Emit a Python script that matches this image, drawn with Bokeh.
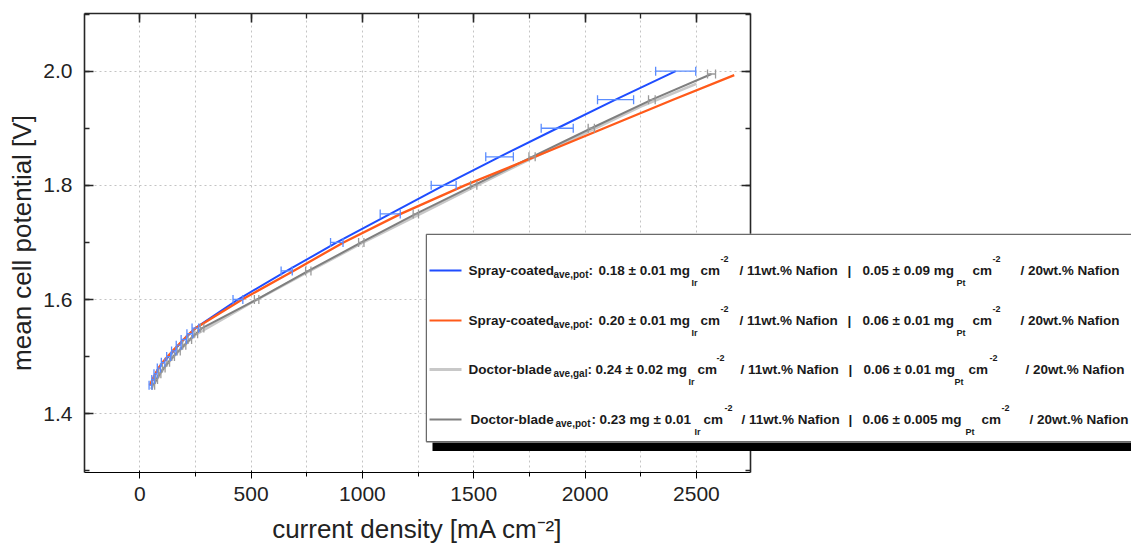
from bokeh.plotting import figure
from bokeh.models import (Range1d, LinearAxis, SingleIntervalTicker, NumeralTickFormatter,
                          CustomJSTickFormatter, Whisker, TeeHead, ColumnDataSource, Label)
from bokeh.embed import file_html
from bokeh.resources import INLINE

# ---------------- data ----------------
pot_blue = [1.45, 1.46, 1.47, 1.48, 1.49, 1.50, 1.51, 1.52, 1.53, 1.54, 1.55,
            1.60, 1.65, 1.70, 1.75, 1.80, 1.85, 1.90, 1.95, 2.00]
j_blue = [48, 60, 71, 86, 105, 130, 153, 175, 198, 225, 250,
          441, 660, 885, 1125, 1365, 1616, 1875, 2137, 2407]
err_blue = [6, 6, 7, 7, 8, 9, 10, 11, 12, 13, 15,
            22, 25, 28, 45, 56, 62, 72, 81, 90]

pot_orange = [1.45, 1.46, 1.47, 1.48, 1.49, 1.50, 1.51, 1.52, 1.53, 1.54, 1.55,
              1.60, 1.65, 1.70, 1.75, 1.80, 1.85, 1.90, 1.95, 1.993]
j_orange = [45, 57, 70, 85, 103, 125, 148, 172, 197, 222, 252,
            460, 690, 915, 1172, 1460, 1775, 2085, 2395, 2670]

pot_dgray = [1.45, 1.46, 1.47, 1.48, 1.49, 1.50, 1.51, 1.52, 1.53, 1.54, 1.55,
             1.60, 1.65, 1.70, 1.75, 1.80, 1.85, 1.90, 1.95, 1.995]
j_dgray = [62, 75, 90, 108, 128, 150, 175, 200, 225, 252, 280,
           525, 757, 995, 1240, 1500, 1762, 2028, 2300, 2568]
err_dgray = [5, 5, 5, 6, 6, 6, 7, 7, 8, 8, 8,
             10, 12, 12, 12, 14, 14, 14, 15, 18]

j_lgray = [50, 60, 75, 90, 110, 130, 150, 175, 200, 225, 250,
           500, 750, 1000, 1250, 1500, 1750, 2000, 2250, 2500]
pot_lgray = [1.443, 1.449, 1.459, 1.469, 1.480, 1.490, 1.499, 1.509, 1.519, 1.529, 1.538,
             1.594, 1.647, 1.699, 1.748, 1.797, 1.845, 1.891, 1.938, 1.978]

series_names = ["Spray-coated", "Spray-coated", "Doctor-blade", "Doctor-blade"]
series_subs = ["ave,pot", "ave,pot", "ave,gal", "ave,pot"]
anode_loadings = ["0.18 \u00b1 0.01 mg", "0.20 \u00b1 0.01 mg", "0.24 \u00b1 0.02 mg", "0.23 mg \u00b1  0.01"]
cathode_loadings = ["0.05  \u00b1 0.09 mg", "0.06  \u00b1 0.01 mg", "0.06 \u00b1 0.01 mg", "0.06  \u00b1 0.005 mg"]
anode_ionomer = "/ 11wt.% Nafion"
cathode_ionomer = "/ 20wt.% Nafion"

x_label = "current density [mA cm\u207b\u00b2]"
y_label = "mean cell potential [V]"

C_BLUE = "#1f4dff"
C_BLUE_ERR = "#5a8cff"
C_ORANGE = "#ff5a1a"
C_DGRAY = "#7f7f7f"
C_LGRAY = "#c8c8c8"
AX = "#262626"

# ---------------- main figure ----------------
p = figure(width=760, height=548, output_backend="svg", toolbar_location=None, title=None,
           x_range=Range1d(-248, 2743), y_range=Range1d(1.297, 2.101),
           min_border_left=84, min_border_right=10, min_border_top=13, min_border_bottom=76)
p.outline_line_color = None
p.background_fill_color = "white"
p.border_fill_color = "white"

xt = SingleIntervalTicker(interval=500, num_minor_ticks=2)
yt = SingleIntervalTicker(interval=0.2, num_minor_ticks=2)

for ax in [p.xaxis[0], p.yaxis[0]]:
    ax.major_label_text_font = "Liberation Sans"
    ax.major_label_text_font_size = "21px"
    ax.major_label_text_color = "#222222"
    ax.axis_label_text_font = "Liberation Sans"
    ax.axis_label_text_font_size = "26px"
    ax.axis_label_text_font_style = "normal"
    ax.axis_label_text_color = "#222222"
p.xaxis[0].ticker = xt
p.yaxis[0].ticker = yt
p.yaxis[0].formatter = NumeralTickFormatter(format="0.0")
p.xaxis[0].major_label_standoff = 8
p.yaxis[0].major_label_standoff = 12
p.xaxis[0].axis_label = x_label
p.yaxis[0].axis_label = y_label
p.xaxis[0].axis_label_standoff = 10
p.yaxis[0].axis_label_standoff = 3

blank = CustomJSTickFormatter(code="return ''")
top = LinearAxis(ticker=xt, formatter=blank, major_label_standoff=0)
right = LinearAxis(ticker=yt, formatter=blank, major_label_standoff=0)
p.add_layout(top, "above")
p.add_layout(right, "right")

for ax in [p.xaxis[0], p.yaxis[0], top, right]:
    ax.axis_line_color = AX
    ax.axis_line_width = 1.6
    ax.major_tick_line_color = AX
    ax.minor_tick_line_color = AX
    ax.major_tick_line_width = 1.6
    ax.minor_tick_line_width = 1.3
    ax.major_tick_in = 9
    ax.major_tick_out = 0
    ax.minor_tick_in = 5
    ax.minor_tick_out = 0

p.xgrid.grid_line_color = None
p.xgrid.minor_grid_line_color = "#c4c4c4"
p.xgrid.minor_grid_line_dash = "2 3"
p.xgrid.minor_grid_line_width = 1
p.ygrid.grid_line_color = "#c4c4c4"
p.ygrid.grid_line_dash = "2 3"
p.ygrid.grid_line_width = 1

src_b = ColumnDataSource(dict(x=j_blue, y=pot_blue,
                              lo=[a - e for a, e in zip(j_blue, err_blue)],
                              hi=[a + e for a, e in zip(j_blue, err_blue)]))
src_o = ColumnDataSource(dict(x=j_orange, y=pot_orange))
src_d = ColumnDataSource(dict(x=j_dgray, y=pot_dgray,
                              lo=[a - e for a, e in zip(j_dgray, err_dgray)],
                              hi=[a + e for a, e in zip(j_dgray, err_dgray)]))
src_l = ColumnDataSource(dict(x=j_lgray, y=pot_lgray))

p.line("x", "y", source=src_l, line_color=C_LGRAY, line_width=2.5)
p.add_layout(Whisker(source=src_d, base="y", lower="lo", upper="hi", dimension="width",
                     line_color="#9a9a9a", line_width=1.3, level="glyph",
                     upper_head=TeeHead(size=9, line_color="#9a9a9a", line_width=1.3),
                     lower_head=TeeHead(size=9, line_color="#9a9a9a", line_width=1.3)))
p.line("x", "y", source=src_d, line_color=C_DGRAY, line_width=2)
p.add_layout(Whisker(source=src_b, base="y", lower="lo", upper="hi", dimension="width",
                     line_color=C_BLUE_ERR, line_width=1.3, level="glyph",
                     upper_head=TeeHead(size=9, line_color=C_BLUE_ERR, line_width=1.3),
                     lower_head=TeeHead(size=9, line_color=C_BLUE_ERR, line_width=1.3)))
p.line("x", "y", source=src_b, line_color=C_BLUE, line_width=2)
p.line("x", "y", source=src_o, line_color=C_ORANGE, line_width=2.3)

# ---------------- legend (separate overlay figure, 1 unit = 1 px) ----------------
LX0, LY0 = 425, 233          # page position of legend canvas
LW, LH = 706, 218
leg = figure(width=LW, height=LH, output_backend="svg", toolbar_location=None, title=None,
             x_range=Range1d(0, LW), y_range=Range1d(0, LH),
             x_axis_location=None, y_axis_location=None, min_border=0,
             min_border_left=0, min_border_right=0, min_border_top=0, min_border_bottom=0,
             styles={"position": "absolute", "left": f"{LX0}px", "top": f"{LY0}px",
                     "z-index": "5"})
leg.outline_line_color = None
leg.background_fill_color = None
leg.border_fill_color = None
leg.grid.visible = False

def lx(X):
    return X - LX0
def ly(Y):
    return (LY0 + LH) - Y

# shadow and box
leg.quad(left=[lx(432)], right=[LW], bottom=[ly(451)], top=[ly(241)], fill_color="black",
         line_color=None)
leg.quad(left=[0], right=[LW], bottom=[ly(442)], top=[LH], fill_color="white", line_color=None)
leg.segment(x0=[0.75, 0.75, 0.75], y0=[ly(442) + 0.75, LH - 0.75, ly(442) + 0.75],
            x1=[0.75, LW, LW], y1=[LH - 0.75, LH - 0.75, ly(442) + 0.75],
            line_color="#6a6a6a", line_width=1.5)

row_y = [270, 320, 369, 419]
swatch_colors = [C_BLUE, C_ORANGE, C_LGRAY, C_DGRAY]
swatch_w = [2, 2, 3, 2]
leg.segment(x0=[lx(429)] * 4, x1=[lx(461)] * 4, y0=[ly(Y) for Y in row_y],
            y1=[ly(Y) for Y in row_y], line_color=swatch_colors, line_width=swatch_w)

name_x = [468, 468, 468, 470]
sub_x = [553, 553, 553, 555]
colon_x = [588, 588, 587, 591]
an_x = [598, 598, 595, 599]
ir_x = [691, 691, 688, 694]
cm1_x = [700, 700, 697, 703]
sup1_x = [720, 720, 716, 724]
ion1_x = [739, 739, 740, 741]
bar_x = [847, 847, 848, 848]
ca_x = [862, 862, 863, 862]
pt_x = [956, 956, 954, 965]
cm2_x = [972, 972, 968, 981]
sup2_x = [992, 992, 989, 1001]
ion2_x = [1020, 1020, 1025, 1029]

FONT = "Liberation Sans"
def lab(text, X, Y, size):
    leg.add_layout(Label(x=lx(X), y=ly(Y), text=text, text_font=FONT,
                         text_font_size=f"{size}px", text_font_style="bold",
                         text_align="left", text_baseline="middle", text_color="#1a1a1a"))

BIG, SUB, SMALL = 13.5, 10, 9
for i, Y in enumerate(row_y):
    lab(series_names[i], name_x[i], Y, BIG)
    lab(series_subs[i], sub_x[i], Y + 4, SUB)
    lab(":", colon_x[i], Y, BIG)
    lab(anode_loadings[i], an_x[i], Y, BIG)
    lab("Ir", ir_x[i], Y + 12, SMALL)
    lab("cm", cm1_x[i], Y, BIG)
    lab("-2", sup1_x[i], Y - 12, SMALL)
    lab(anode_ionomer, ion1_x[i], Y, BIG)
    lab("|", bar_x[i], Y, BIG)
    lab(cathode_loadings[i], ca_x[i], Y, BIG)
    lab("Pt", pt_x[i], Y + 12, SMALL)
    lab("cm", cm2_x[i], Y, BIG)
    lab("-2", sup2_x[i], Y - 12, SMALL)
    lab(cathode_ionomer, ion2_x[i], Y, BIG)

open("out.html", "w").write(file_html([p, leg], INLINE))
